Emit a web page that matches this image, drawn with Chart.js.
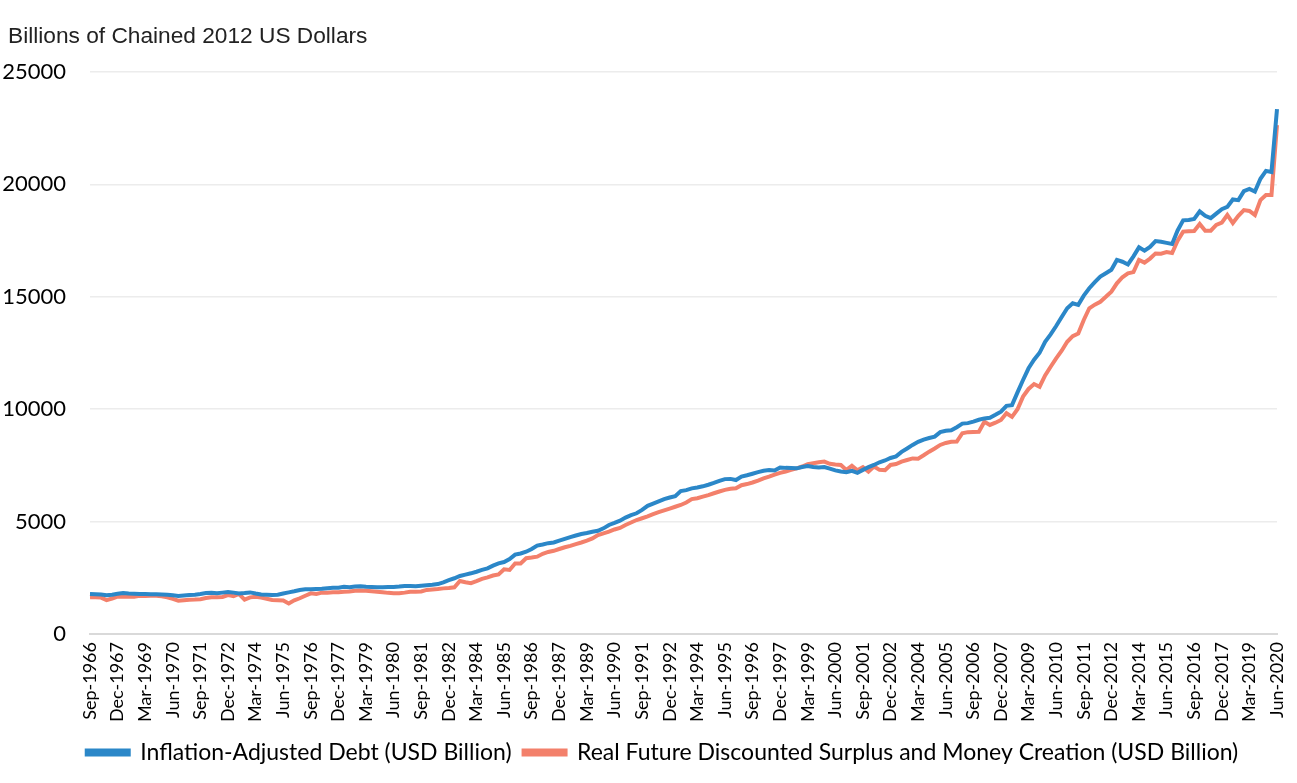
<!DOCTYPE html>
<html>
<head>
<meta charset="utf-8">
<script src="https://cdn.jsdelivr.net/npm/chart.js@4.4.0/dist/chart.umd.min.js"></script>
<style>
html,body{margin:0;padding:0;background:#fff;}
#wrap{width:1297px;height:783px;position:relative;}
</style>
</head>
<body>
<div id="wrap"><canvas id="canvas"></canvas></div>
<script>
// quarterly data, Sep-1966 .. Jun-2020
var yTitle = 'Billions of Chained 2012 US Dollars';
var quarterNames = ['Mar', 'Jun', 'Sep', 'Dec'];
var debtLabel = 'Inflation-Adjusted Debt (USD Billion)';
var surplusLabel = 'Real Future Discounted Surplus and Money Creation (USD Billion)';
var yTicks = [0, 5000, 10000, 15000, 20000, 25000];

var debt = [
  1780,1770,1760,1720,1750,1790,1820,1800,1790,1780,
  1780,1770,1770,1760,1750,1720,1690,1710,1730,1750,
  1780,1820,1830,1810,1840,1870,1840,1800,1820,1850,
  1800,1760,1750,1740,1750,1800,1850,1900,1960,1990,
  1990,2000,2010,2040,2060,2060,2100,2080,2110,2120,
  2100,2090,2080,2080,2090,2090,2110,2140,2130,2120,
  2150,2170,2190,2220,2300,2400,2480,2580,2640,2700,
  2770,2850,2920,3040,3140,3200,3330,3530,3580,3660,
  3780,3930,3980,4040,4070,4150,4230,4310,4380,4450,
  4490,4550,4590,4700,4850,4940,5040,5180,5290,5370,
  5520,5700,5800,5900,6000,6070,6130,6360,6400,6480,
  6520,6570,6640,6720,6810,6890,6900,6850,7000,7060,
  7130,7200,7260,7290,7270,7410,7390,7380,7370,7430,
  7470,7430,7410,7430,7360,7280,7230,7200,7260,7170,
  7300,7420,7520,7640,7720,7830,7900,8100,8250,8410,
  8550,8650,8720,8780,8980,9040,9060,9200,9360,9380,
  9450,9530,9590,9620,9750,9890,10150,10180,10750,11300,
  11820,12200,12510,13000,13330,13700,14100,14490,14710,14640,
  15050,15380,15650,15900,16050,16200,16640,16560,16440,16800,
  17200,17050,17220,17480,17450,17400,17350,17950,18400,18420,
  18460,18800,18600,18500,18700,18900,19000,19330,19300,19700,
  19800,19680,20250,20600,20550,23350
];

var surplus = [
  1630,1640,1620,1510,1580,1660,1660,1670,1660,1700,
  1690,1700,1700,1680,1630,1560,1480,1500,1520,1530,
  1550,1600,1630,1640,1650,1730,1680,1780,1530,1630,
  1660,1620,1570,1510,1500,1490,1360,1500,1590,1700,
  1810,1780,1840,1840,1860,1860,1880,1890,1920,1930,
  1920,1900,1880,1860,1830,1810,1810,1840,1880,1880,
  1890,1960,1980,2000,2030,2050,2080,2360,2300,2260,
  2350,2450,2520,2600,2650,2880,2850,3140,3140,3370,
  3400,3440,3570,3650,3700,3780,3860,3920,4000,4070,
  4150,4250,4400,4480,4550,4650,4720,4850,4960,5070,
  5150,5230,5330,5420,5500,5580,5660,5740,5850,6000,
  6040,6110,6180,6260,6340,6410,6460,6480,6620,6670,
  6740,6820,6920,7000,7090,7170,7230,7300,7370,7450,
  7550,7600,7640,7670,7570,7540,7520,7300,7480,7280,
  7420,7220,7450,7300,7290,7520,7560,7670,7740,7810,
  7800,7950,8110,8250,8410,8500,8550,8560,8930,8980,
  8990,9000,9440,9300,9400,9520,9820,9660,10000,10560,
  10900,11120,11000,11500,11890,12260,12600,13000,13250,13370,
  13970,14490,14650,14780,15000,15230,15600,15870,16040,16100,
  16640,16520,16700,16930,16920,16990,16950,17500,17900,17920,
  17930,18240,17940,17940,18200,18300,18640,18280,18600,18860,
  18820,18640,19300,19530,19530,22640
];

var labels = [];
for (var k = 0; k < debt.length; k++) {
  var q = (2 + k) % 4;
  var yr = 1966 + Math.floor((2 + k) / 4);
  labels.push(quarterNames[q] + '-' + yr);
}

var axisTitle = {
  id: 'axisTitle',
  afterLayout: function(chart) {
    // legend in the original sits a bit right of centre
    if (chart.legend) {
      chart.legend.left += 24;
      chart.legend.right += 24;
    }
  },
  afterDraw: function(chart) {
    var c = chart.ctx;
    c.save();
    c.font = '22.7px "Liberation Sans", Arial, sans-serif';
    c.fillStyle = '#222';
    c.textBaseline = 'alphabetic';
    c.fillText(yTitle, 8, 43);
    c.restore();
  }
};

var ctx = document.getElementById('canvas').getContext('2d');
var myChart = new Chart(ctx, {
  type: 'line',
  data: {
    labels: labels,
    datasets: [{
      label: debtLabel,
      data: debt,
      borderColor: '#2b87c8',
      backgroundColor: '#2b87c8',
      borderWidth: 4,
      pointRadius: 0,
      tension: 0
    }, {
      label: surplusLabel,
      data: surplus,
      borderColor: '#f3806b',
      backgroundColor: '#f3806b',
      borderWidth: 4,
      pointRadius: 0,
      tension: 0
    }]
  },
  options: {
    responsive: true,
    maintainAspectRatio: false,
    animation: false,
    layout: { padding: { top: 72, right: 20, left: 0, bottom: 9 } },
    plugins: {
      tooltip: { enabled: false },
      legend: {
        position: 'bottom',
        labels: {
          font: { family: 'Lato', size: 23 },
          color: '#000',
          boxWidth: 42,
          boxHeight: 4,
          padding: 12
        }
      }
    },
    scales: {
      x: {
        offset: false,
        grid: { color: 'rgba(0,0,0,0)', drawTicks: false },
        border: { display: true, color: '#d9d9d9', width: 2 },
        afterFit: function(scale) {
          scale.height = 95;
          scale.paddingLeft = 0;
          scale.paddingRight = 0;
        },
        ticks: {
          autoSkip: false,
          maxRotation: 90,
          minRotation: 90,
          padding: 8,
          color: '#000',
          font: { family: 'Lato', size: 18 },
          callback: function(val, idx) {
            return idx % 5 === 0 ? this.getLabelForValue(val) : null;
          }
        }
      },
      y: {
        min: 0,
        max: 25000,
        afterBuildTicks: function(scale) {
          scale.ticks = yTicks.map(function(v) { return { value: v }; });
        },
        afterFit: function(scale) { scale.width = 90; },
        grid: { color: '#ececec', lineWidth: 1.5, drawTicks: false },
        border: { display: false },
        ticks: {
          padding: 24,
          color: '#000',
          font: { family: 'Lato', size: 22 },
          callback: function(v) { return String(v); }
        }
      }
    }
  },
  plugins: [axisTitle]
});
</script>
</body>
</html>
